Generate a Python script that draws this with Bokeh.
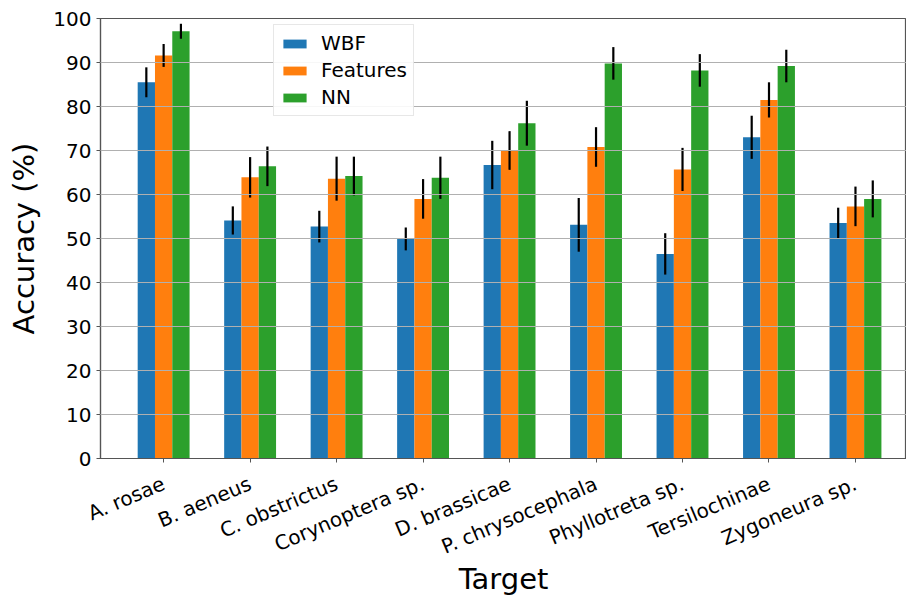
import math
from bokeh.plotting import figure
from bokeh.models import ColumnDataSource, Range1d, FixedTicker, Legend, LegendItem
from bokeh.transform import dodge
from bokeh.embed import file_html
from bokeh.resources import INLINE

categories = ["A. rosae", "B. aeneus", "C. obstrictus", "Corynoptera sp.", "D. brassicae",
              "P. chrysocephala", "Phyllotreta sp.", "Tersilochinae", "Zygoneura sp."]
wbf = [85.5, 54.1, 52.7, 49.9, 66.7, 53.1, 46.5, 73.0, 53.5]
wbf_err = [3.4, 3.2, 3.6, 2.6, 5.5, 6.1, 4.7, 4.9, 3.5]
features = [91.6, 63.9, 63.6, 59.0, 70.0, 70.8, 65.7, 81.5, 57.3]
features_err = [2.6, 4.6, 5.0, 4.5, 4.4, 4.5, 4.9, 4.0, 4.5]
nn = [97.1, 66.4, 64.2, 63.8, 76.2, 89.8, 88.2, 89.2, 59.0]
nn_err = [1.7, 4.5, 4.4, 4.8, 5.1, 3.7, 3.7, 3.7, 4.2]
series_names = ["WBF", "Features", "NN"]
colors = ["#1f77b4", "#ff7f0e", "#2ca02c"]
y_ticks = list(range(0, 101, 10))

xs = list(range(len(categories)))
src = ColumnDataSource(dict(
    x=xs,
    wbf=wbf, features=features, nn=nn,
    wbf_lo=[v - e for v, e in zip(wbf, wbf_err)], wbf_hi=[v + e for v, e in zip(wbf, wbf_err)],
    features_lo=[v - e for v, e in zip(features, features_err)], features_hi=[v + e for v, e in zip(features, features_err)],
    nn_lo=[v - e for v, e in zip(nn, nn_err)], nn_hi=[v + e for v, e in zip(nn, nn_err)],
))

p = figure(width=906, height=599, output_backend="svg", toolbar_location=None,
           x_range=Range1d(-0.73, 8.59), y_range=Range1d(0, 100),
           min_border_left=100, min_border_right=0, min_border_top=18, min_border_bottom=141)

keys = ["wbf", "features", "nn"]
offsets = [-0.2, 0.0, 0.2]
bar_renderers = []
for k, off, c in zip(keys, offsets, colors):
    r = p.vbar(x=dodge("x", off), top=k, width=0.2, bottom=0, source=src,
               fill_color=c, line_color=None)
    bar_renderers.append(r)

p.ygrid.level = "overlay"
p.ygrid.grid_line_color = "#b0b0b0"
p.ygrid.grid_line_width = 1.2
p.xgrid.grid_line_color = None

for k, off in zip(keys, offsets):
    seg = p.segment(x0=dodge("x", off), x1=dodge("x", off), y0=k + "_lo", y1=k + "_hi",
                    source=src, line_color="black", line_width=2.2)
    seg.level = "overlay"

legend = Legend(items=[LegendItem(label=n, renderers=[r]) for n, r in zip(series_names, bar_renderers)],
                location=(173, 342))
legend.label_text_font = "DejaVu Sans"
legend.label_text_font_size = "20px"
legend.label_text_color = "black"
legend.glyph_width = 29
legend.glyph_height = 11
legend.label_height = 20
legend.spacing = 3
legend.padding = 6
legend.margin = 0
legend.label_standoff = 12
legend.border_line_color = "#d0d0d0"
legend.border_line_width = 1
legend.background_fill_alpha = 0.9
p.add_layout(legend, "center")

p.xaxis.ticker = FixedTicker(ticks=xs)
p.xaxis.major_label_overrides = {i: c for i, c in zip(xs, categories)}
p.xaxis.major_label_orientation = math.radians(23)
p.yaxis.ticker = FixedTicker(ticks=y_ticks)

for ax in (p.xaxis[0], p.yaxis[0]):
    ax.major_label_text_font = "DejaVu Sans"
    ax.major_label_text_font_size = "20px"
    ax.major_label_text_color = "black"
    ax.axis_label_text_font = "DejaVu Sans"
    ax.axis_label_text_font_size = "29px"
    ax.axis_label_text_font_style = "normal"
    ax.axis_label_text_color = "black"
    ax.axis_line_color = "#555555"
    ax.axis_line_width = 1.2
    ax.major_tick_line_color = "#555555"
    ax.major_tick_in = 0
    ax.major_tick_out = 4
    ax.minor_tick_line_color = None
    ax.major_label_standoff = 5

p.xaxis[0].major_label_standoff = 20
p.xaxis.axis_label = "Target"
p.yaxis.axis_label = "Accuracy (%)"
p.yaxis.axis_label_standoff = 9
p.xaxis.axis_label_standoff = -11

p.outline_line_color = "#555555"
p.outline_line_width = 1.2

open("out.html", "w").write(file_html(p, INLINE))
